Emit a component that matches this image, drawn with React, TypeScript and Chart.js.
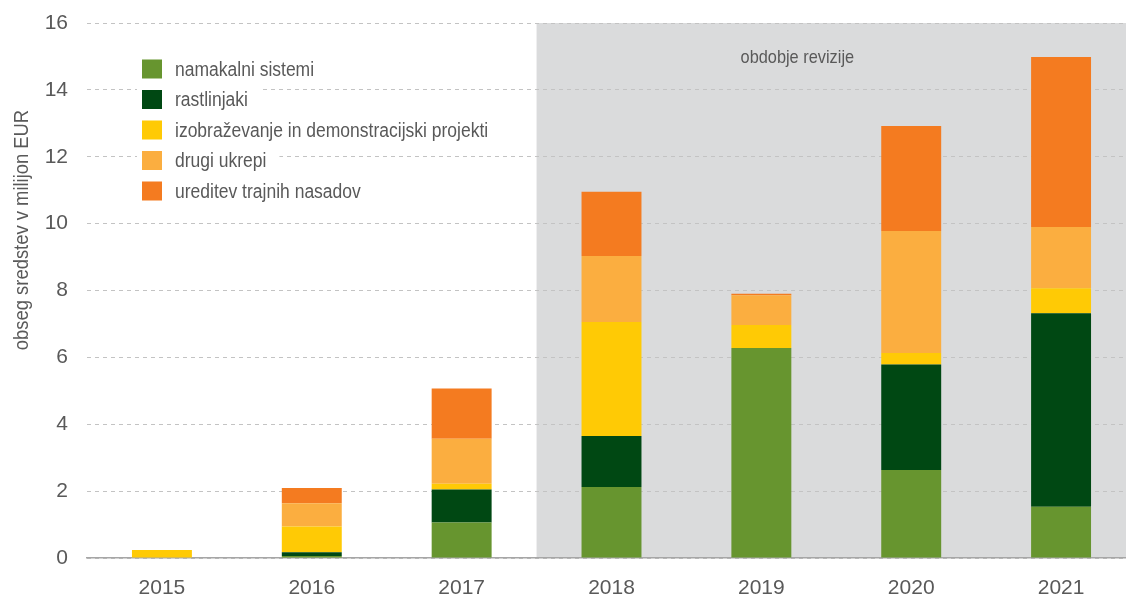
import React, { useEffect, useRef } from "react";
import { Chart, registerables } from "chart.js";

Chart.register(...registerables);

const years = ["2015", "2016", "2017", "2018", "2019", "2020", "2021"];
const namakalni = [0, 0.06, 1.06, 2.12, 6.28, 2.63, 1.53];
const rastlinjaki = [0, 0.11, 0.99, 1.53, 0, 3.16, 5.79];
const izobrazevanje = [0.24, 0.77, 0.17, 3.41, 0.69, 0.34, 0.75];
const drugiUkrepi = [0, 0.7, 1.35, 1.97, 0.89, 3.65, 1.83];
const ureditev = [0, 0.45, 1.5, 1.92, 0.04, 3.14, 5.08];

const seriesLabels = [
  "namakalni sistemi",
  "rastlinjaki",
  "izobraževanje in demonstracijski projekti",
  "drugi ukrepi",
  "ureditev trajnih nasadov",
];
const seriesColors = ["#67952F", "#004813", "#FFCA05", "#FBAE40", "#F47B20"];
const yMin = 0;
const yMax = 16;
const yStep = 2;
const auditLabel = "obdobje revizije";
const auditStartIndex = 3;
const yTitle = "obseg sredstev v milijon EUR";

const FONT = "'Liberation Sans', Arial, sans-serif";
const TEXT = "#595959";

function condensedText(ctx: any, text: string, x: number, y: number, sx: number, align: string) {
  ctx.save();
  ctx.translate(x, y);
  ctx.scale(sx, 1);
  ctx.textAlign = align;
  ctx.fillText(text, 0, 0);
  ctx.restore();
}

const decorPlugin = {
  id: "decor",
  beforeDraw(chart: any) {
    const { ctx, chartArea, scales } = chart;
    const x0 = scales.x.getPixelForValue(auditStartIndex - 0.5);
    ctx.save();
    ctx.fillStyle = "#DADBDC";
    ctx.fillRect(x0, chartArea.top, chart.width - x0, chartArea.bottom - chartArea.top);
    ctx.restore();
  },
  afterDraw(chart: any) {
    const { ctx, chartArea, scales } = chart;
    ctx.save();
    ctx.textBaseline = "middle";
    // audit period label
    const xs = scales.x;
    const step = xs.getPixelForValue(1) - xs.getPixelForValue(0);
    ctx.font = `19px ${FONT}`;
    ctx.fillStyle = TEXT;
    condensedText(ctx, auditLabel, xs.getPixelForValue(4) + 0.24 * step, chartArea.top + 35, 0.86, "center");

    // legend
    const ds = chart.data.datasets;
    const lx = 142;
    const ly0 = 69;
    const lh = 30.5;
    const sx = 0.875;
    ctx.font = `20px ${FONT}`;
    ds.forEach((d: any, i: number) => {
      const cy = ly0 + i * lh;
      const tw = ctx.measureText(d.label).width * sx;
      ctx.fillStyle = "#FFFFFF";
      ctx.fillRect(lx - 5, cy - lh / 2, tw + 33 + 18, lh);
    });
    ds.forEach((d: any, i: number) => {
      const cy = ly0 + i * lh;
      ctx.fillStyle = d.backgroundColor;
      ctx.fillRect(lx, cy - 9.5, 20, 19);
      ctx.fillStyle = TEXT;
      condensedText(ctx, d.label, lx + 33, cy + 1, sx, "left");
    });

    // y title
    ctx.translate(22, 230);
    ctx.rotate(-Math.PI / 2);
    ctx.font = `20px ${FONT}`;
    ctx.fillStyle = TEXT;
    condensedText(ctx, yTitle, 0, 0, 0.92, "center");
    ctx.restore();
  },
};

export default function App() {
  const ref = useRef<HTMLCanvasElement>(null);
  useEffect(() => {
    if (!ref.current) return;
    const values = [namakalni, rastlinjaki, izobrazevanje, drugiUkrepi, ureditev];
    const chart = new Chart(ref.current, {
      type: "bar",
      data: {
        labels: years,
        datasets: values.map((v, i) => ({
          label: seriesLabels[i],
          data: v,
          backgroundColor: seriesColors[i],
          borderWidth: 0,
          barPercentage: 0.4,
          categoryPercentage: 1,
        })),
      },
      options: {
        responsive: false,
        animation: false,
        devicePixelRatio: 1,
        layout: { padding: { top: 23, right: 4, left: 0, bottom: 0 } },
        plugins: {
          legend: { display: false },
          tooltip: { enabled: false },
          title: { display: false },
        },
        scales: {
          x: {
            stacked: true,
            offset: true,
            grid: { display: false, drawTicks: false },
            border: { display: true, color: "#A6A6A6", width: 1.5 },
            ticks: { color: TEXT, font: { family: FONT, size: 21 }, padding: 18 },
            afterFit: (s: any) => {
              s.height = 38;
              s.paddingLeft = 0;
              s.paddingRight = 0;
            },
          },
          y: {
            stacked: true,
            min: yMin,
            max: yMax,
            grid: { color: "#C3C3C3", lineWidth: 1, drawTicks: false },
            border: { display: false, dash: [4, 4] },
            ticks: {
              stepSize: yStep,
              color: TEXT,
              font: { family: FONT, size: 21 },
              padding: 19,
            },
            afterFit: (s: any) => {
              s.width = 87;
              s.paddingTop = 0;
              s.paddingBottom = 0;
            },
          },
        },
      },
      plugins: [decorPlugin],
    });
    return () => chart.destroy();
  }, []);
  return (
    <div
      style={{
        position: "fixed",
        left: 0,
        top: 0,
        width: 1126,
        height: 596,
        overflow: "hidden",
        background: "#fff",
      }}
    >
      <canvas ref={ref} width={1140} height={596} style={{ display: "block" }} />
    </div>
  );
}
